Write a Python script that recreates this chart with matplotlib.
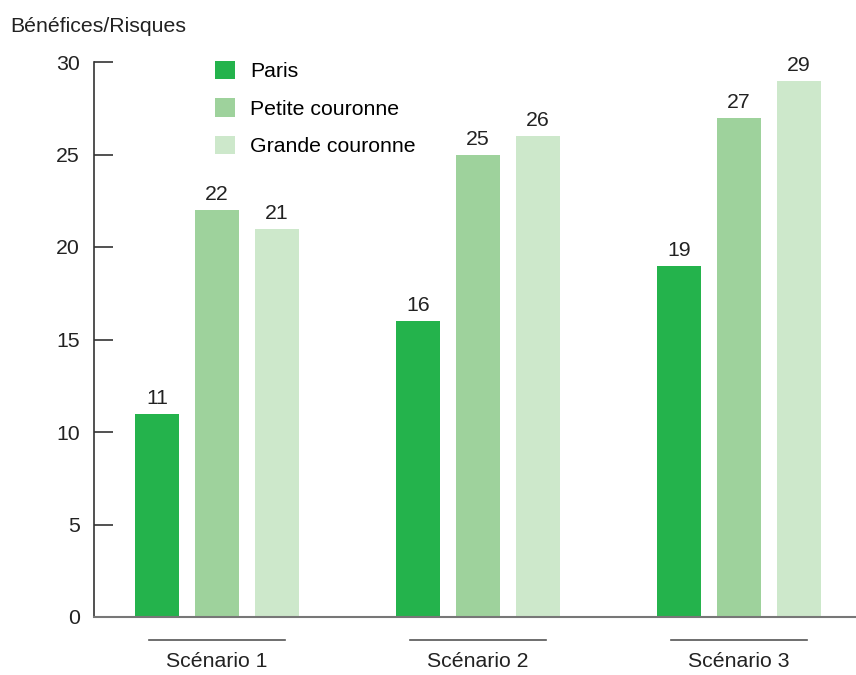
import matplotlib.pyplot as plt
import numpy as np

plt.rcParams['font.family'] = ['Liberation Sans', 'DejaVu Sans']

scenarios = ['Scénario 1', 'Scénario 2', 'Scénario 3']
series = ['Paris', 'Petite couronne', 'Grande couronne']
paris = [11, 16, 19]
petite = [22, 25, 27]
grande = [21, 26, 29]
colors = ['#24b34c', '#9ed29c', '#cde8cb']
y_ticks = [0, 5, 10, 15, 20, 25, 30]

W, H = 856, 675
fs = 15.3
fig = plt.figure(figsize=(W / 100, H / 100), dpi=100)
ax = fig.add_axes([94 / W, (H - 617) / H, (W - 94) / W, (617 - 62) / H])

x = np.arange(len(scenarios))
width = 0.169
offset = 0.23

for i, (vals, name) in enumerate(zip([paris, petite, grande], series)):
    bars = ax.bar(x + (i - 1) * offset, vals, width, color=colors[i], label=name)
    for b, v in zip(bars, vals):
        ax.annotate(str(v), (b.get_x() + b.get_width() / 2, v),
                    xytext=(0, 4), textcoords='offset points',
                    ha='center', va='bottom', fontsize=fs, color='#222222')

ax.set_xlim(-0.471, 2.448)
ax.set_ylim(0, 30)
ax.set_yticks(y_ticks)
ax.set_xticks([])
ax.tick_params(axis='y', direction='in', length=13.7, width=1.2, pad=10,
               labelsize=fs, color='#333333', labelcolor='#222222')

for side in ['top', 'right']:
    ax.spines[side].set_visible(False)
ax.spines['left'].set_color('#333333')
ax.spines['left'].set_linewidth(1.2)
ax.spines['bottom'].set_color('#777777')
ax.spines['bottom'].set_linewidth(1.5)

# group underlines and labels below the axis
trans = ax.get_xaxis_transform()
for xi, name in zip(x, scenarios):
    ax.plot([xi - 0.26, xi + 0.26], [-0.041, -0.041], transform=trans,
            color='#555555', lw=1.2, clip_on=False)
    ax.text(xi, -0.081, name, transform=trans, ha='center', va='center',
            fontsize=fs, color='#222222')

fig.text(10 / W, 1 - 27 / H, 'Bénéfices/Risques', ha='left', va='center',
         fontsize=fs, color='#222222')

ax.legend(loc='upper left', bbox_to_anchor=(215 / W, 1 - 61 / H),
          bbox_transform=fig.transFigure, frameon=False, fontsize=fs,
          handlelength=0.93, handleheight=0.95, handletextpad=0.74,
          labelspacing=0.8, borderpad=0, borderaxespad=0)

fig.savefig('out.png', dpi=100)
